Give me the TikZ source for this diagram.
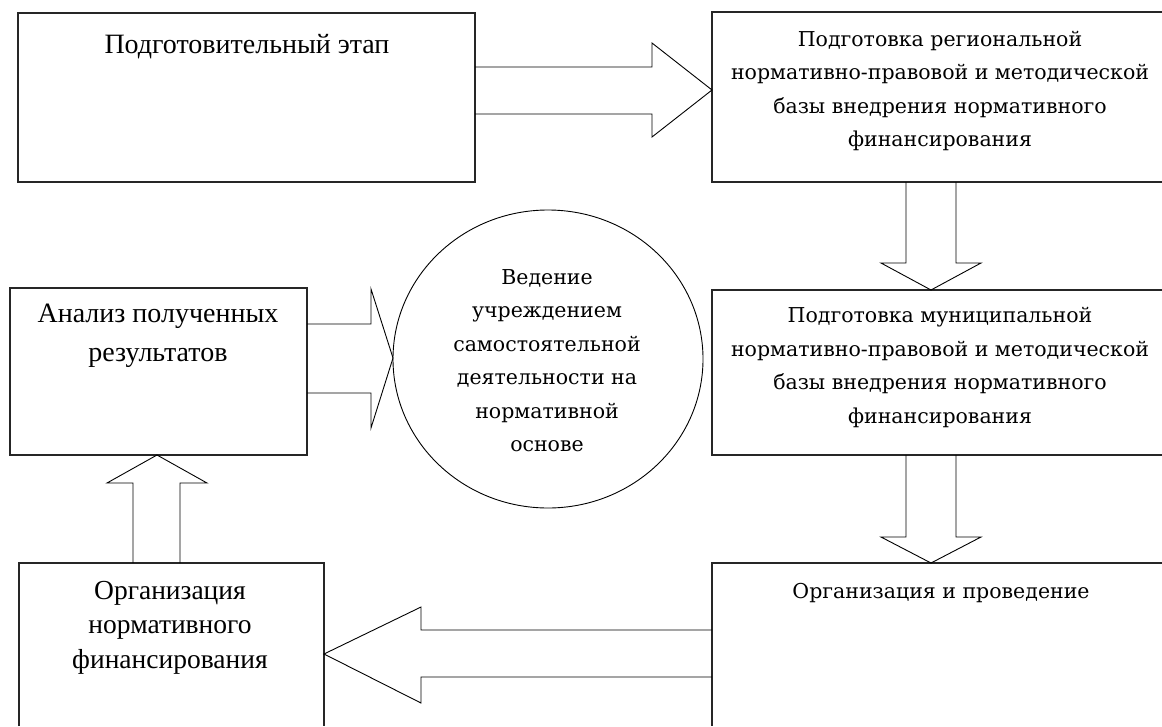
\documentclass[tikz,border=0pt]{standalone}
\usepackage{fontspec}
\setmainfont{Liberation Serif}
\newfontfamily\dvs{DejaVu Serif}
\usetikzlibrary{calc,shapes.geometric}
\tikzset{
  boxshape/.style={rectangle, inner sep=0pt, outer sep=0pt, anchor=north west},
  boxline/.style={draw=black!85, line width=1.4pt},
  barrow/.style={draw=black, line width=0.9pt, line join=miter},
  ovalline/.style={ellipse, draw=black, line width=0.9pt, inner sep=0pt, outer sep=0pt},
  tmsA/.style={align=center, inner sep=0pt, anchor=north, font=\fontsize{28pt}{39pt}\selectfont},
  tmsB/.style={align=center, inner sep=0pt, anchor=north, font=\fontsize{27.5pt}{34.5pt}\selectfont},
  dvsT/.style={align=center, inner sep=0pt, anchor=north, font=\dvs\fontsize{20.5pt}{33.5pt}\selectfont}
}
\begin{document}
\begin{tikzpicture}[x=1pt, y=-1pt]
\useasboundingbox (0,0) rectangle (1162,726);
% boxes
\node[boxshape, minimum width=457pt, minimum height=169pt] (b1) at (18,13) {};
\draw[boxline] (b1.north west) rectangle (b1.south east);
\node[boxshape, minimum width=450pt, minimum height=170pt] (b2) at (712,12) {};
\draw[boxline] (b2.north east) -- (b2.north west) -- (b2.south west) -- (b2.south east);
\node[boxshape, minimum width=450pt, minimum height=165pt] (b3) at (712,290) {};
\draw[boxline] (b3.north east) -- (b3.north west) -- (b3.south west) -- (b3.south east);
\node[boxshape, minimum width=450pt, minimum height=163pt] (b4) at (712,563) {};
\draw[boxline] (b4.north east) -- (b4.north west) -- (b4.south west);
\node[boxshape, minimum width=305pt, minimum height=163pt] (b5) at (19,563) {};
\draw[boxline] (b5.south west) -- (b5.north west) -- (b5.north east) -- (b5.south east);
\node[boxshape, minimum width=297pt, minimum height=167pt] (b6) at (10,288) {};
\draw[boxline] (b6.north west) rectangle (b6.south east);
\node[ovalline, minimum width=310pt, minimum height=298pt] (c1) at (548,359) {};
% texts
\node[tmsA] (t1) at (247,34) {Подготовительный этап};
\node[dvsT] (t2) at (940,31) {Подготовка региональной\\нормативно-правовой и методической\\базы внедрения нормативного\\финансирования};
\node[dvsT] (t3) at (940,307) {Подготовка муниципальной\\нормативно-правовой и методической\\базы внедрения нормативного\\финансирования};
\node[dvsT] (t4) at (941,583) {Организация и проведение};
\node[dvsT] (t5) at (547,269) {Ведение\\учреждением\\самостоятельной\\деятельности на\\нормативной\\основе};
\node[tmsA] (t6) at (158,304) {Анализ полученных\\результатов};
\node[tmsB] (t7) at (170,581) {Организация\\нормативного\\финансирования};
% block arrows
\draw[barrow] (b1.east |- 0,67) -- (652,67) -- (652,43) -- (b2.west |- 0,90) -- (652,137) -- (652,114) -- (b1.east |- 0,114);
\draw[barrow] (b2.south -| 906,0) -- (906,263) -- (881,263) -- (b3.north -| 931,0) -- (981,263) -- (956,263) -- (b2.south -| 956,0);
\draw[barrow] (b3.south -| 906,0) -- (906,537) -- (881,537) -- (b4.north -| 931,0) -- (981,537) -- (956,537) -- (b3.south -| 956,0);
\draw[barrow] (b4.west |- 0,630) -- (421,630) -- (421,607) -- (b5.east |- 0,654) -- (421,703) -- (421,677) -- (b4.west |- 0,677);
\draw[barrow] (b5.north -| 133,0) -- (133,483) -- (107,483) -- (b6.south -| 157,0) -- (207,483) -- (180,483) -- (b5.north -| 180,0);
\draw[barrow] (b6.east |- 0,324) -- (371,324) -- (371,289) -- (c1.west |- 0,358) -- (371,428) -- (371,393) -- (b6.east |- 0,393);
\end{tikzpicture}
\end{document}
